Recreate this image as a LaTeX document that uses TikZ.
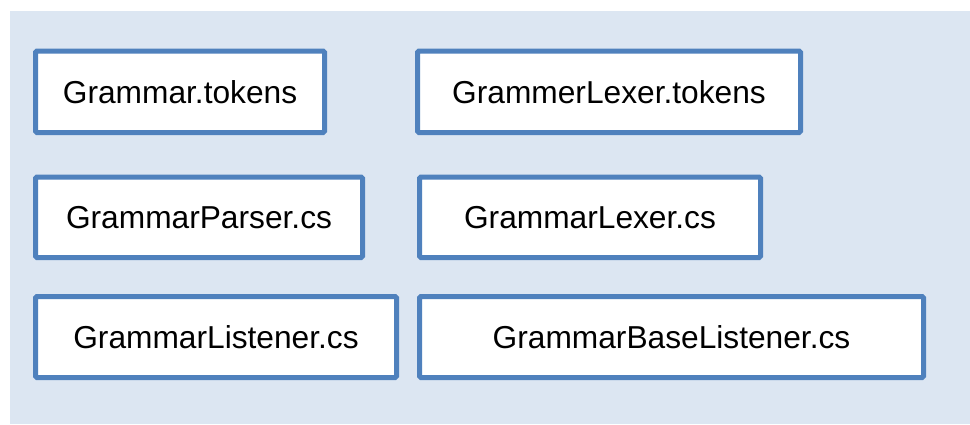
\documentclass[tikz,border=0pt]{standalone}
\usepackage{fontspec}
\setmainfont{Liberation Sans}
\definecolor{bgblue}{HTML}{DCE6F2}
\definecolor{boxblue}{HTML}{4F81BD}
\begin{document}
\begin{tikzpicture}[x=1pt,y=-1pt,
  filebox/.style={draw=boxblue, fill=white, line width=5pt, rounded corners=1.5pt,
    inner sep=0pt, font=\fontsize{31.7}{38}\selectfont, text=black}]
\useasboundingbox (0,0) rectangle (970,424);
\fill[white] (0,0) rectangle (970,424);
\fill[bgblue] (10,11) rectangle (970,424);
\node[filebox, minimum width=289pt, minimum height=81.5pt] (tok) at (180,91.75) {Grammar.tokens};
\node[filebox, minimum width=383pt, minimum height=81.5pt] (lextok) at (609,91.75) {GrammerLexer.tokens};
\node[filebox, minimum width=327pt, minimum height=80.5pt] (parser) at (199,217.25) {GrammarParser.cs};
\node[filebox, minimum width=341pt, minimum height=80.5pt] (lexer) at (590,217.25) {GrammarLexer.cs};
\node[filebox, minimum width=361pt, minimum height=81pt] (listener) at (216,337) {GrammarListener.cs};
\node[filebox, minimum width=504pt, minimum height=81pt] (baselistener) at (671.5,337) {GrammarBaseListener.cs};
\end{tikzpicture}
\end{document}
